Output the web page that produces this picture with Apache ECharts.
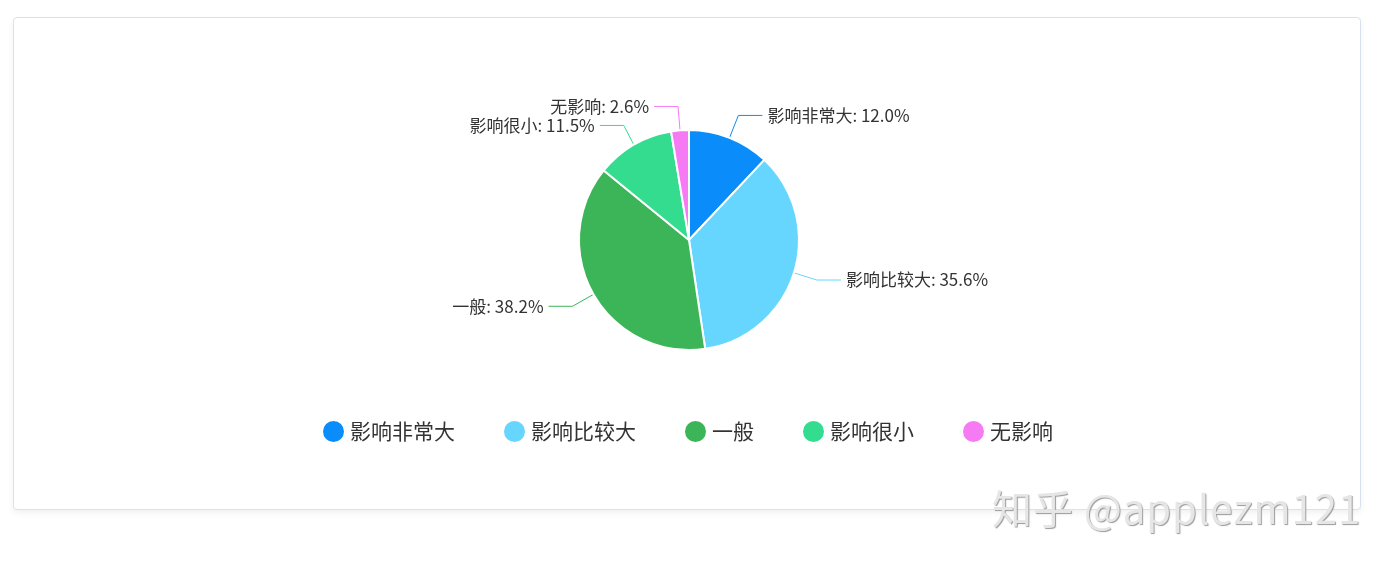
<!DOCTYPE html>
<html lang="zh" style="height: 100%">
<head>
  <meta charset="utf-8">
</head>
<body style="height: 100%; margin: 0; background: #fff">
  <div id="card" style="position:absolute; left:13px; top:17px; width:1346px; height:491px; border:1px solid #d8e2ef; border-radius:4px; box-shadow:0 3px 6px rgba(0,0,0,0.06); background:#fff">
    <div id="container" style="width:100%; height:100%"></div>
  </div>
  <div style="position:absolute; left:992px; top:478px; font-family:'Noto Sans CJK SC'; font-size:40px; color:#e6e6e6; text-shadow:1px 1px 1px #999; letter-spacing:1px">知乎 @applezm121</div>

  <script type="text/javascript" src="https://cdn.jsdelivr.net/npm/echarts@6/dist/echarts.min.js"></script>
  <script type="text/javascript">
    // 数据
    var categories = ['影响非常大', '影响比较大', '一般', '影响很小', '无影响'];
    var values = [12.0, 35.6, 38.2, 11.5, 2.6];
    var colors = ['#0a8cfa', '#66d6ff', '#3cb558', '#34dc90', '#f77af5'];

    var myChart = echarts.init(document.getElementById('container'), null, { renderer: 'canvas' });

    var option = {
      color: colors,
      textStyle: { fontFamily: 'Noto Sans CJK SC' },
      legend: {
        data: categories,
        top: 396,
        left: 'center',
        icon: 'circle',
        itemWidth: 23,
        itemHeight: 23,
        itemGap: 47,
        textStyle: { fontSize: 21, color: '#333' }
      },
      series: [
        {
          type: 'pie',
          center: [675, 222],
          radius: 110,
          startAngle: 90,
          itemStyle: { borderColor: '#fff', borderWidth: 2 },
          label: {
            formatter: function (p) {
              return p.name + ': ' + p.value.toFixed(1) + '%';
            },
            fontSize: 17,
            color: '#333'
          },
          labelLine: { length: 24, length2: 24 },
          data: categories.map(function (name, i) {
            return { name: name, value: values[i] };
          })
        }
      ]
    };

    myChart.setOption(option);
    window.addEventListener('resize', myChart.resize);
  </script>
</body>
</html>
